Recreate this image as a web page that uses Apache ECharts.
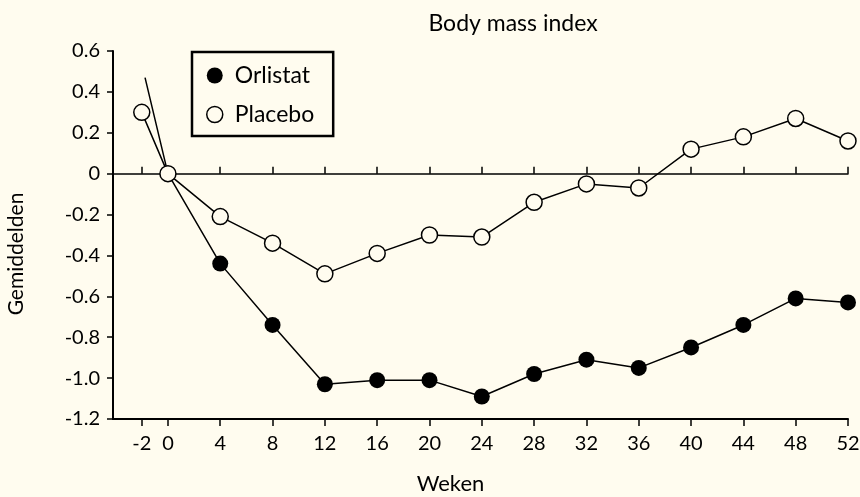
<!DOCTYPE html>
<html>
<head>
<meta charset="utf-8">
<script src="https://cdn.jsdelivr.net/npm/echarts@6/dist/echarts.min.js"></script>
<style>
  html, body { margin: 0; padding: 0; background: #fffcef; }
  #chart { width: 860px; height: 497px; }
</style>
</head>
<body>
<div id="chart"></div>
<script>
var weeks = [-2, 0, 4, 8, 12, 16, 20, 24, 28, 32, 36, 40, 44, 48, 52];
var placebo = [0.30, 0, -0.21, -0.34, -0.49, -0.39, -0.30, -0.31, -0.14, -0.05, -0.07, 0.12, 0.18, 0.27, 0.16];
// Orlistat: first point is the line start without marker, no marker at week 0
var orlistatWeeks = [-1.75, 0, 4, 8, 12, 16, 20, 24, 28, 32, 36, 40, 44, 48, 52];
var orlistat = [0.47, 0, -0.44, -0.74, -1.03, -1.01, -1.01, -1.09, -0.98, -0.91, -0.95, -0.85, -0.74, -0.61, -0.63];
var tickWeeks = [-2, 0, 4, 8, 12, 16, 20, 24, 28, 32, 36, 40, 44, 48, 52];

var bg = '#fffcef';
var font = 'Lato';

var placeboData = [];
for (var i = 0; i < weeks.length; i++) placeboData.push([weeks[i], placebo[i]]);
var orlistatData = [];
for (var i = 0; i < orlistatWeeks.length; i++) {
    var p = { value: [orlistatWeeks[i], orlistat[i]] };
    if (i < 2) p.symbol = 'none';
    orlistatData.push(p);
}

var chart = echarts.init(document.getElementById('chart'));

var option = {
    backgroundColor: bg,
    animation: false,
    title: {
        text: 'Body mass index',
        left: 508, top: 7, textAlign: 'center',
        textStyle: { fontFamily: font, fontWeight: 'normal', fontSize: 23, color: '#000' }
    },
    legend: {
        orient: 'vertical',
        left: 192, top: 52,
        padding: [12, 19, 10, 14],
        itemGap: 16,
        itemWidth: 16, itemHeight: 16,
        borderColor: '#000', borderWidth: 2.5,
        textStyle: { fontFamily: font, fontSize: 23, color: '#000', padding: [0, 0, 0, 7] },
        data: [
            { name: 'Orlistat', icon: 'circle', itemStyle: { color: '#000', borderWidth: 0 } },
            { name: 'Placebo', icon: 'circle', itemStyle: { color: bg, borderColor: '#000', borderWidth: 1.5 } }
        ]
    },
    grid: { left: 113, right: 12, top: 51, bottom: 78, outerBoundsMode: 'none' },
    xAxis: [
        {
            type: 'value', min: -4.2, max: 52,
            name: 'Weken', nameLocation: 'middle', nameGap: 54,
            nameTextStyle: { fontFamily: font, fontSize: 22, color: '#000', padding: [0, 60, 0, 0] },
            axisLine: { onZero: false, lineStyle: { color: '#000', width: 2 } },
            axisTick: { customValues: tickWeeks, length: 7, lineStyle: { color: '#000', width: 1.5 } },
            axisLabel: { customValues: tickWeeks, fontFamily: font, fontSize: 20, color: '#000', margin: 15 },
            splitLine: { show: false }
        },
        {
            type: 'value', min: -4.2, max: 52,
            axisLine: { onZero: true, lineStyle: { color: '#000', width: 1.5 } },
            axisTick: { customValues: tickWeeks, length: 7, lineStyle: { color: '#000', width: 1.5 } },
            axisLabel: { show: false },
            splitLine: { show: false }
        }
    ],
    yAxis: {
        type: 'value', min: -1.2, max: 0.6, interval: 0.2,
        name: 'Gemiddelden', nameLocation: 'middle', nameGap: 86,
        nameTextStyle: { fontFamily: font, fontSize: 21, color: '#000', padding: [0, 38, 0, 0] },
        axisLine: { show: true, onZero: false, lineStyle: { color: '#000', width: 2 } },
        axisTick: { show: true, length: 6, lineStyle: { color: '#000', width: 1.5 } },
        axisLabel: {
            fontFamily: font, fontSize: 20, color: '#000', margin: 13,
            formatter: function (v) {
                var r = Math.round(v * 10) / 10;
                return r === 0 ? '0' : r.toFixed(1);
            }
        },
        splitLine: { show: false }
    },
    series: [
        {
            name: 'Placebo', type: 'line', data: placeboData,
            symbol: 'circle', symbolSize: 16,
            itemStyle: { color: bg, borderColor: '#000', borderWidth: 1.5 },
            lineStyle: { color: '#000', width: 1.5 }
        },
        {
            name: 'Orlistat', type: 'line', data: orlistatData,
            symbol: 'circle', symbolSize: 16,
            itemStyle: { color: '#000' },
            lineStyle: { color: '#000', width: 1.5 }
        }
    ]
};

chart.setOption(option);
</script>
</body>
</html>
